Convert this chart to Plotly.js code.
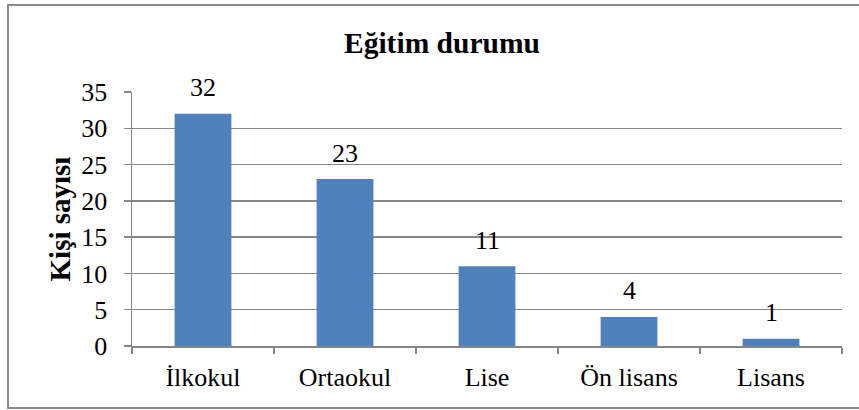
<!DOCTYPE html>
<html>
<head>
<meta charset="utf-8">
<script src="https://cdn.plot.ly/plotly-3.0.1.min.js"></script>
<style>html,body{margin:0;padding:0;background:#fff;}#chart{width:859px;height:410px;}</style>
</head>
<body>
<div id="chart"></div>
<script>
const categories = ["İlkokul", "Ortaokul", "Lise", "Ön lisans", "Lisans"];
const counts = [32, 23, 11, 4, 1];
const yTicks = [0, 5, 10, 15, 20, 25, 30, 35];
const chartTitle = "Eğitim durumu";
const yTitle = "Kişi sayısı";

const serif = "Liberation Serif";
const W = 859, H = 410;
const L = 132, R = 17, T = 92, B = 64;
const pw = W - L - R, ph = H - T - B;
const px = v => (v - L) / pw;
const py = v => (H - B - v) / ph;

const trace = {
  type: "bar",
  x: categories,
  y: counts,
  marker: {color: "#4F81BD"},
  width: 0.4,
  hoverinfo: "x+y"
};

const annotations = categories.map((c, i) => ({
  x: c, y: counts[i], xref: "x", yref: "y",
  text: String(counts[i]), showarrow: false,
  yanchor: "middle", yshift: 26,
  font: {family: serif, size: 26, color: "#000"}
}));
annotations.push({
  xref: "paper", yref: "paper", x: px(442), y: py(43),
  xanchor: "center", yanchor: "middle", showarrow: false,
  text: "<b>" + chartTitle + "</b>",
  font: {family: serif, size: 29.5, color: "#000"}
});

const layout = {
  width: W, height: H,
  margin: {l: L, r: R, t: T, b: B, pad: 0},
  paper_bgcolor: "#fff", plot_bgcolor: "#fff",
  showlegend: false,
  font: {family: serif, size: 26, color: "#000"},
  xaxis: {
    type: "category",
    tickson: "boundaries",
    ticks: "outside", ticklen: 6, tickwidth: 1.5, tickcolor: "#868686",
    showline: true, linecolor: "#868686", linewidth: 1.5,
    showgrid: false, zeroline: false,
    tickfont: {family: serif, size: 26, color: "#000"},
    ticklabelstandoff: 7
  },
  yaxis: {
    range: [0, 35],
    tickvals: yTicks,
    ticktext: yTicks.map(String),
    ticks: "outside", ticklen: 7, tickwidth: 1.5, tickcolor: "#868686",
    showline: true, linecolor: "#868686", linewidth: 1.5,
    showgrid: true, gridcolor: "#868686", gridwidth: 1.5,
    zeroline: false,
    tickfont: {family: serif, size: 26, color: "#000"},
    ticklabelstandoff: 11,
    title: {text: "<b>" + yTitle + "</b>", font: {family: serif, size: 29, color: "#000"}, standoff: 2}
  },
  annotations: annotations,
  shapes: [{
    type: "rect", xref: "paper", yref: "paper",
    x0: px(8), x1: px(875), y0: py(408), y1: py(5),
    line: {color: "#8a8a8a", width: 2}, layer: "below"
  }]
};

Plotly.newPlot("chart", [trace], layout, {displayModeBar: false, staticPlot: true});
</script>
</body>
</html>
